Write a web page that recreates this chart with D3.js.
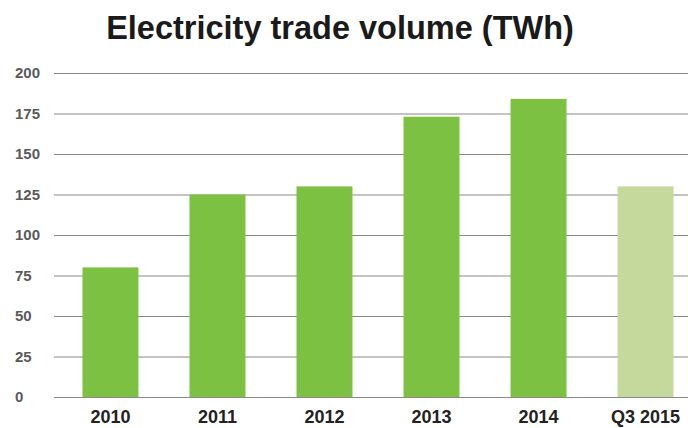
<!DOCTYPE html>
<html>
<head>
<meta charset="utf-8">
<script src="https://cdn.jsdelivr.net/npm/d3@7"></script>
<style>
  body { margin: 0; background: #fff; }
  svg { display: block; font-family: "Liberation Sans", Arial, Helvetica, sans-serif; }
</style>
</head>
<body>
<svg class="mainSvg" width="688" height="428"></svg>
<script>
// chart data
var categories = ["2010", "2011", "2012", "2013", "2014", "Q3 2015"];
var volumes = [80, 125, 130, 173, 184, 130];
var barColors = ["#7cc142", "#7cc142", "#7cc142", "#7cc142", "#7cc142", "#c4d99b"];
var yTicks = [0, 25, 50, 75, 100, 125, 150, 175, 200];

var svg = d3.select(".mainSvg");

var y = d3.scaleLinear().domain([0, 200]).range([397, 73]);
var x = d3.scaleBand().domain(categories).range([57, 699])
  .paddingInner(0.477).paddingOuter(0.238);

// title
svg.append("text")
  .attr("x", 340)
  .attr("y", 39)
  .attr("text-anchor", "middle")
  .attr("font-size", 32.5)
  .attr("font-weight", "bold")
  .attr("fill", "#1a1a1a")
  .text("Electricity trade volume (TWh)");

// gridlines
svg.append("g").selectAll("line")
  .data(yTicks)
  .enter().append("line")
  .attr("x1", 54)
  .attr("x2", 688)
  .attr("y1", function(d) { return y(d) + 0.5; })
  .attr("y2", function(d) { return y(d) + 0.5; })
  .attr("stroke", "#8a8a8a")
  .attr("stroke-width", 1.2);

// y labels
svg.append("g").selectAll("text")
  .data(yTicks)
  .enter().append("text")
  .attr("x", 15)
  .attr("y", function(d) { return y(d) + 5; })
  .attr("font-size", 15)
  .attr("font-weight", "bold")
  .attr("fill", "#5a5a5a")
  .text(function(d) { return d; });

// bars
svg.append("g").selectAll("rect")
  .data(volumes)
  .enter().append("rect")
  .attr("x", function(d, i) { return x(categories[i]); })
  .attr("width", x.bandwidth())
  .attr("y", function(d) { return y(d); })
  .attr("height", function(d) { return y(0) - y(d); })
  .attr("fill", function(d, i) { return barColors[i]; });

// x labels
svg.append("g").selectAll("text")
  .data(categories)
  .enter().append("text")
  .attr("x", function(d) { return x(d) + x.bandwidth() / 2; })
  .attr("y", 423)
  .attr("text-anchor", "middle")
  .attr("font-size", 18)
  .attr("font-weight", "bold")
  .attr("fill", "#222")
  .text(function(d) { return d; });
</script>
</body>
</html>
